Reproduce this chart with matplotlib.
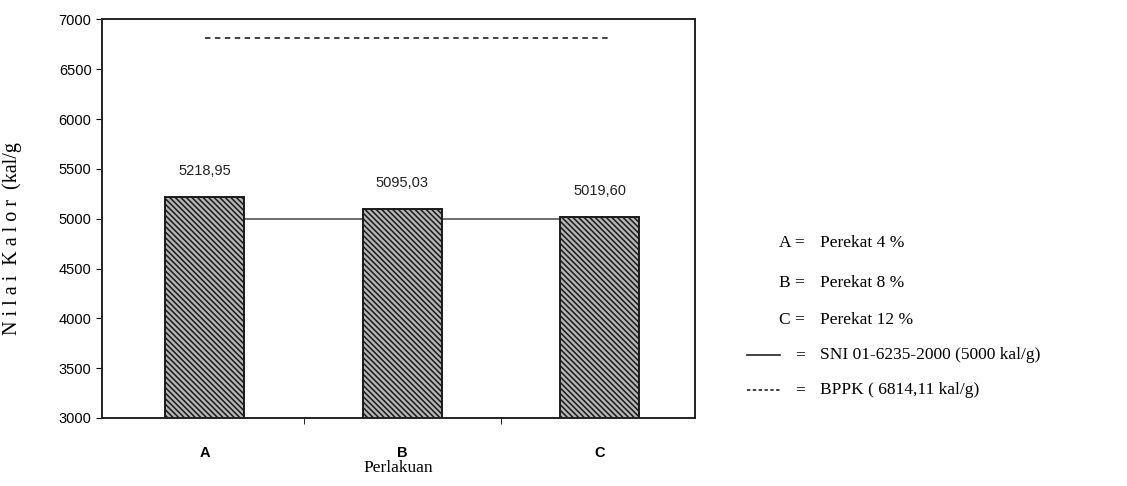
import matplotlib.pyplot as plt
from matplotlib.lines import Line2D

# data
categories = ['A', 'B', 'C']
nilai_kalor = [5218.95, 5095.03, 5019.60]
value_labels = ['5218,95', '5095,03', '5019,60']
sni = 5000
bppk = 6814.11
legend_keys = ['A =', 'B =', 'C =']
legend_texts = ['Perekat 4 %', 'Perekat 8 %', 'Perekat 12 %',
                'SNI 01-6235-2000 (5000 kal/g)', 'BPPK ( 6814,11 kal/g)']

plt.rcParams['hatch.linewidth'] = 1.1
plt.rcParams['hatch.color'] = '#2a2a2a'

serif = ['Liberation Serif', 'DejaVu Serif']
sans = ['Liberation Sans', 'DejaVu Sans']

fig = plt.figure(figsize=(11.27, 4.86), dpi=100)
ax = fig.add_axes([0.0905, 0.14, 0.526, 0.82])

x = list(range(len(categories)))
ax.plot([x[0], x[-1]], [sni, sni], color='#555555', lw=1.2, zorder=1)
ax.plot([x[0], x[-1] + 0.04], [bppk, bppk], color='#333333', lw=1.3,
        linestyle=(0, (3, 2.5)), zorder=1)
ax.bar(x, nilai_kalor, width=0.4, color='#b5b5b5', edgecolor='#1a1a1a',
       linewidth=1.4, hatch='\\\\\\\\\\\\', zorder=2)

for xi, v, lab in zip(x, nilai_kalor, value_labels):
    ax.text(xi, v + 190, lab, ha='center', va='bottom', fontsize=10.5,
            family=sans, color='#222222')

ax.set_xlim(-0.52, 2.48)
ax.set_ylim(3000, 7000)
ax.set_yticks(range(3000, 7001, 500))
ax.set_xticks(x)
ax.set_xticklabels(categories, family=sans, fontsize=10.5, fontweight='bold')
ax.set_xticks([0.5, 1.5], minor=True)
ax.tick_params(axis='x', which='major', length=0, pad=20)
ax.tick_params(axis='x', which='minor', length=4, direction='out')
ax.tick_params(axis='y', length=4, direction='out', labelsize=10.5)
for t in ax.get_yticklabels():
    t.set_family(sans)

for s in ax.spines.values():
    s.set_linewidth(1.4)
    s.set_color('#222222')

ax.set_xlabel('Perlakuan', family=serif, fontsize=12.5, labelpad=0)
ax.set_ylabel('N i l a i  K a l o r  (kal/g', family=serif, fontsize=14.5)
ax.yaxis.set_label_coords(-0.135, 0.45)

# legend drawn as text
W, H = 1127, 486
rows_y = [243, 283, 320, 355, 390]
for i, yy in enumerate(rows_y):
    fy = 1 - yy / H
    if i < 3:
        fig.text(805 / W, fy, legend_keys[i], ha='right', va='center',
                 family=serif, fontsize=12.5)
    else:
        fig.text(805 / W, fy, '=', ha='right', va='center',
                 family=serif, fontsize=12.5)
        style = '-' if i == 3 else (0, (2, 1.5))
        fig.add_artist(Line2D([747 / W, 780 / W], [fy, fy], color='#222222',
                              lw=1.2, linestyle=style))
    fig.text(820 / W, fy, legend_texts[i], ha='left', va='center',
             family=serif, fontsize=12.5)

fig.savefig('out.png', dpi=100)
